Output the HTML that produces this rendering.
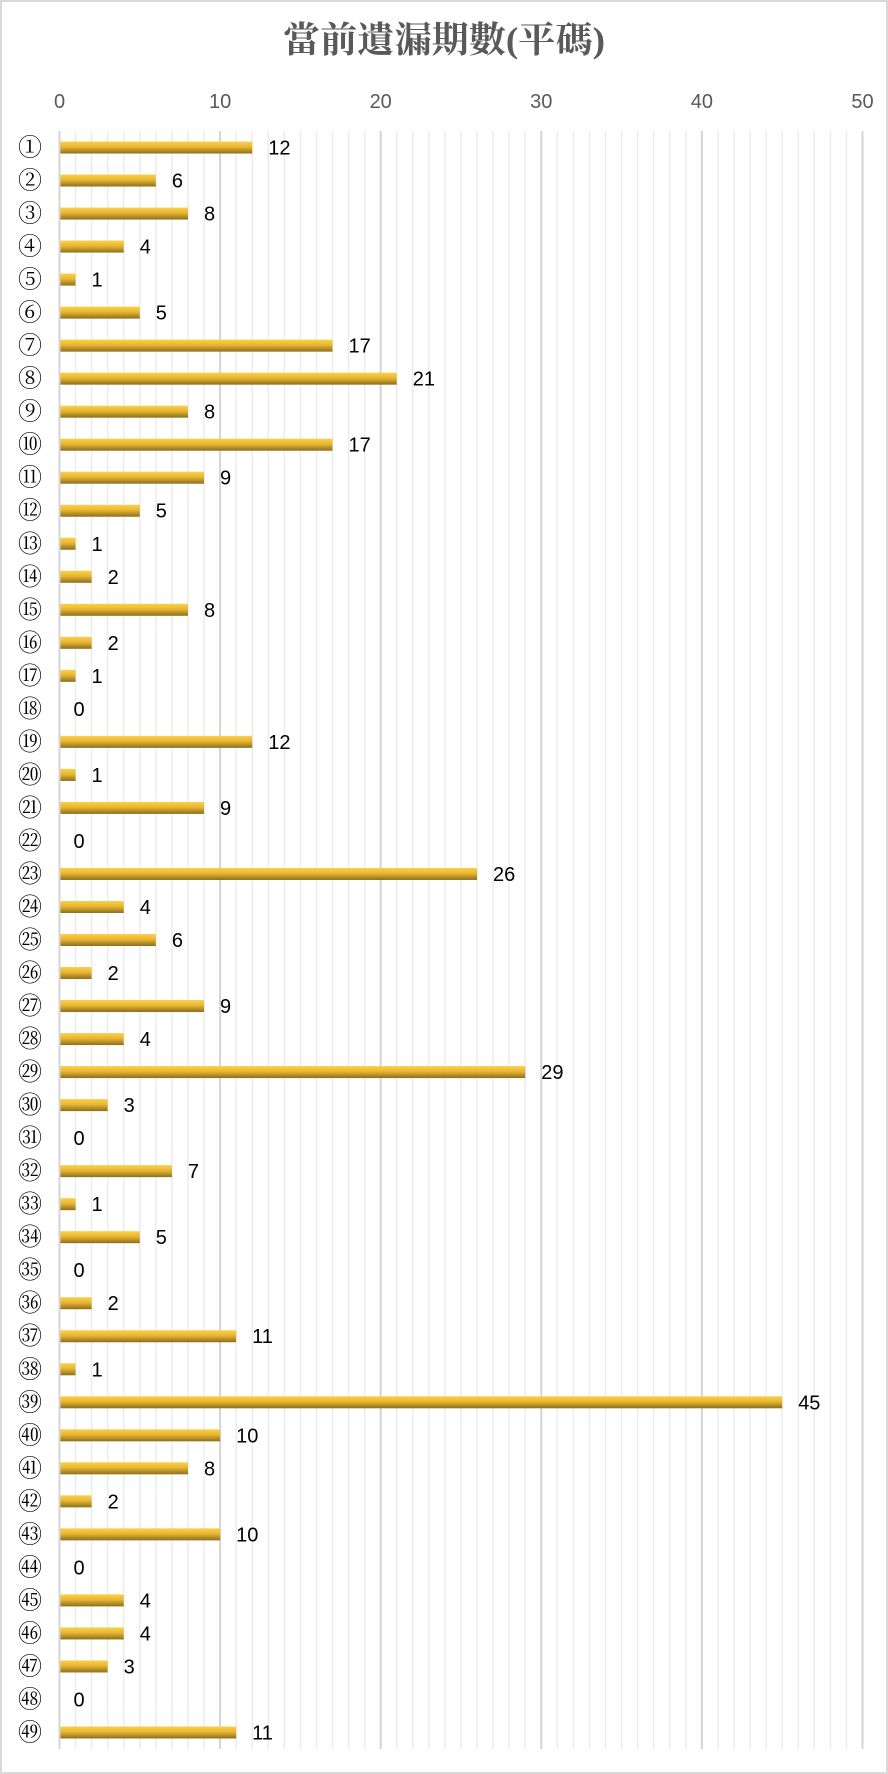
<!DOCTYPE html>
<html><head><meta charset="utf-8">
<style>
html,body{margin:0;padding:0;background:#fff;}
svg{display:block;}
</style></head><body>
<svg width="888" height="1774" xmlns="http://www.w3.org/2000/svg">
<defs>
<linearGradient id="g" x1="0" y1="0" x2="0" y2="1">
<stop offset="0" stop-color="#fcd045"/>
<stop offset="0.45" stop-color="#e8b632"/>
<stop offset="1" stop-color="#8c6e1c"/>
</linearGradient>
</defs>
<rect x="1" y="1" width="886" height="1772" fill="#fff" stroke="#d9d9d9" stroke-width="2"/>
<text x="444" y="52" text-anchor="middle" font-family="'Liberation Serif','Noto Serif CJK SC',serif" font-size="36" font-weight="bold" fill="#595959" textLength="322" lengthAdjust="spacingAndGlyphs">當前遺漏期數(平碼)</text>
<script>
(function(){
var svgns="http://www.w3.org/2000/svg";
var s=document.querySelector('svg');
var x0=59.5,u=16.06,top=131,bot=1749,step=(bot-top)/49;
function el(n,a,t){var e=document.createElementNS(svgns,n);for(var k in a)e.setAttribute(k,a[k]);if(t!==undefined)e.textContent=t;s.appendChild(e);return e;}
for(var i=1;i<=50;i++){if(i%10)el('line',{x1:x0+i*u,x2:x0+i*u,y1:top,y2:bot,stroke:'#ececec','stroke-width':1.5});}
for(var i=10;i<=50;i+=10){el('line',{x1:x0+i*u,x2:x0+i*u,y1:top,y2:bot,stroke:'#d4d4d4','stroke-width':2});}
el('line',{x1:x0,x2:x0,y1:top,y2:bot,stroke:'#d4d4d4','stroke-width':2});
for(var i=0;i<=50;i+=10){el('text',{x:x0+i*u,y:108,'text-anchor':'middle','font-family':'Liberation Sans, sans-serif','font-size':20,fill:'#595959'},String(i));}
var v=[12,6,8,4,1,5,17,21,8,17,9,5,1,2,8,2,1,0,12,1,9,0,26,4,6,2,9,4,29,3,0,7,1,5,0,2,11,1,45,10,8,2,10,0,4,4,3,0,11];
for(var k=0;k<49;k++){
var cy=top+step*(k+0.5);
var n=k+1,ch=n<=20?String.fromCharCode(0x2460+n-1):(n<=35?String.fromCharCode(0x3251+n-21):String.fromCharCode(0x32B1+n-36));
el('text',{x:30,y:cy+8,'text-anchor':'middle','font-family':'Liberation Serif, Noto Serif CJK SC, serif','font-size':24,fill:'#000'},ch);
var w=v[k]*u;
if(w>0)el('rect',{x:x0+1,y:cy-6,width:w-1,height:12,fill:'url(#g)'});
el('text',{x:x0+w+(v[k]?16:14),y:cy+7,'font-family':'Liberation Sans, sans-serif','font-size':20,fill:'#000'},String(v[k]));
}
})();
</script>
</svg>
</body></html>
